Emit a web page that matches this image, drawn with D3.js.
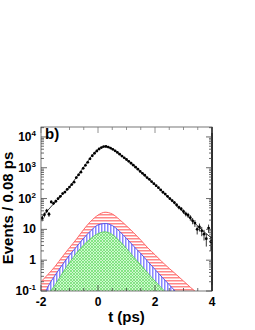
<!DOCTYPE html>
<html>
<head>
<meta charset="utf-8">
<script src="https://cdn.jsdelivr.net/npm/d3@7"></script>
<style>
body { margin:0; background:#fff; }
text { font-family: "Liberation Sans", Arial, sans-serif; font-weight: bold; }
</style>
</head>
<body>
<div id="chart"></div>
<script>
// measured time distribution, bins of 0.08 ps starting at -2
const binWidth = 0.08;
const counts = [23,30,40,31,78,70,82,100,118,145,162,200,235,285,340,480,590,720,960,1200,
  1500,1950,2450,2950,3500,4050,4500,4850,4900,4700,4350,3950,3550,3150,2750,2400,2100,1850,1620,1400,
  1210,1040,900,760,660,570,480,420,355,305,262,225,190,160,140,118,100,86,74,62,
  52,46,38,32,29,24,19,16,10,12,9,7,5,11,4];

// fit curve, sampled every 0.25 ps
const fitT = [-2,-1.75,-1.5,-1.25,-1,-0.75,-0.5,-0.25,0,0.25,0.5,0.75,1,1.25,1.5,1.75,2,2.25,2.5,2.75,3,3.25,3.5,3.75,4];
const fitVals = [23.4,42.6,77.6,136,238,505,1060,2240,3930,4920,4080,2800,1860,1190,731,450,277,170,105,62,36.7,21.8,12.9,7.9,5.1];

// background components (stacked: green, blue, red)
const greenBkg = [0.01,0.07,0.16,0.38,0.84,1.72,3.15,5.1,7.3,8.3,6.8,4.25,2.4,1.28,0.7,0.38,0.21,0.12,0.07,0.04,0.02,0.01,0.006,0.003,0.002];
const blueBkg = [0.03,0.07,0.17,0.33,0.61,1.03,2.05,4.0,6.7,7.2,6.5,4.45,2.7,1.57,0.95,0.52,0.29,0.16,0.09,0.05,0.03,0.02,0.009,0.005,0.002];
const redBkg = [0.16,0.21,0.31,0.59,1.1,2.15,4.8,9.4,15,20.5,18.2,12.3,7.9,4.95,2.85,1.6,1.0,0.6,0.38,0.25,0.16,0.1,0.068,0.042,0.026];

const xTicks = [-2,0,2,4];
const yTicks = [0.1,1,10,100,1000,10000];
const yTickLabels = [["10","-1"],["1",""],["10",""],["10","2"],["10","3"],["10","4"]];

const margin = {top:127,right:43,bottom:39,left:41},
    width = 255 - margin.left - margin.right,
    height = 330 - margin.top - margin.bottom;

const svg = d3.select("#chart")
    .append("svg")
    .attr("width",255)
    .attr("height",330);

const defs = svg.append("defs");

// hatch patterns
const pRed = defs.append("pattern").attr("id","hRed")
    .attr("patternUnits","userSpaceOnUse").attr("width",4).attr("height",3);
pRed.append("rect").attr("width",4).attr("height",3).attr("fill","#fff");
pRed.append("rect").attr("width",4).attr("height",1.5).attr("fill","#f88");

const pBlue = defs.append("pattern").attr("id","hBlue")
    .attr("patternUnits","userSpaceOnUse").attr("width",3).attr("height",4);
pBlue.append("rect").attr("width",3).attr("height",4).attr("fill","#fff");
pBlue.append("rect").attr("width",1.5).attr("height",4).attr("fill","#88f");

const pGreen = defs.append("pattern").attr("id","hGreen")
    .attr("patternUnits","userSpaceOnUse").attr("width",3).attr("height",3);
pGreen.append("rect").attr("width",3).attr("height",3).attr("fill","#d0f8d0");
pGreen.append("path").attr("d","M0,3L3,0M0,0L3,3").attr("stroke","#6d6").attr("stroke-width",0.7);

defs.append("clipPath").attr("id","clip")
    .append("rect").attr("width",width).attr("height",height);

const g = svg.append("g")
    .attr("transform","translate("+margin.left+","+margin.top+")");

const x = d3.scaleLinear().domain([-2,4]).range([0,width]);
const y = d3.scaleLog().domain([0.1,21000]).range([height,0]);

const plot = g.append("g").attr("clip-path","url(#clip)");

// stacked background tops
const greenTop = greenBkg.slice();
const blueTop = greenBkg.map((v,i)=>v+blueBkg[i]);
const redTop = blueTop.map((v,i)=>v+redBkg[i]);

function areaOf(top){
  return d3.area()
    .x((d,i)=>x(fitT[i]))
    .y0(height)
    .y1(d=>y(Math.max(d,0.001)))
    .curve(d3.curveMonotoneX)(top);
}
function lineOf(top){
  return d3.line()
    .x((d,i)=>x(fitT[i]))
    .y(d=>y(Math.max(d,0.001)))
    .curve(d3.curveMonotoneX)(top);
}

plot.append("path").attr("d",areaOf(redTop)).attr("fill","url(#hRed)");
plot.append("path").attr("d",lineOf(redTop)).attr("fill","none").attr("stroke","#f66").attr("stroke-width",1);
plot.append("path").attr("d",areaOf(blueTop)).attr("fill","url(#hBlue)");
plot.append("path").attr("d",lineOf(blueTop)).attr("fill","none").attr("stroke","#55e").attr("stroke-width",1);
plot.append("path").attr("d",areaOf(greenTop)).attr("fill","url(#hGreen)");
plot.append("path").attr("d",lineOf(greenTop)).attr("fill","none").attr("stroke","#5c5").attr("stroke-width",0.8);

// fit curve
plot.append("path").attr("d",lineOf(fitVals)).attr("fill","none")
    .attr("stroke","#222").attr("stroke-width",0.9);

// data points
const pts = counts.map((c,i)=>({t:-2+binWidth*(i+0.5), n:c}));
plot.selectAll(".eb").data(pts).enter().append("line")
    .attr("x1",d=>x(d.t)).attr("x2",d=>x(d.t))
    .attr("y1",d=>y(d.n+Math.sqrt(d.n)))
    .attr("y2",d=>y(Math.max(d.n-Math.sqrt(d.n),0.05)))
    .attr("stroke","#000").attr("stroke-width",0.8);
plot.selectAll(".pt").data(pts).enter().append("circle")
    .attr("cx",d=>x(d.t)).attr("cy",d=>y(d.n))
    .attr("r",1.4).attr("fill","#000");

// frame and ticks (inward, mirrored)
const frame = g.append("g");
frame.append("rect").attr("width",width).attr("height",height)
    .attr("fill","none").attr("stroke","#555").attr("stroke-width",0.8);
frame.append("line").attr("x1",width).attr("x2",width).attr("y1",0).attr("y2",height)
    .attr("stroke","#000").attr("stroke-width",1.5);

const minorX = d3.range(-2,4.01,0.5);
minorX.forEach(v=>{
  const len = (v%2===0) ? 6 : 3;
  frame.append("line").attr("x1",x(v)).attr("x2",x(v)).attr("y1",height).attr("y2",height-len).attr("stroke","#444").attr("stroke-width",0.8);
  frame.append("line").attr("x1",x(v)).attr("x2",x(v)).attr("y1",0).attr("y2",len).attr("stroke","#777").attr("stroke-width",0.8);
});

const minorY = [];
[0.1,1,10,100,1000,10000].forEach(d=>{ for(let k=1;k<10;k++){ if(d*k<=21000) minorY.push([d*k,k===1]); } });
minorY.forEach(([v,maj])=>{
  const len = maj ? 6 : 3;
  frame.append("line").attr("x1",0).attr("x2",len).attr("y1",y(v)).attr("y2",y(v)).attr("stroke","#444").attr("stroke-width",0.8);
  frame.append("line").attr("x1",width).attr("x2",width-len).attr("y1",y(v)).attr("y2",y(v)).attr("stroke","#444").attr("stroke-width",0.8);
});

// tick labels
g.selectAll(".xl").data(xTicks).enter().append("text")
    .attr("x",d=>x(d)).attr("y",height+15)
    .attr("text-anchor","middle").attr("font-size",12)
    .text(d=>d);

yTicks.forEach((v,i)=>{
  const t = g.append("text").attr("x",-5).attr("y",y(v)+4)
      .attr("text-anchor","end").attr("font-size",12);
  t.append("tspan").text(yTickLabels[i][0]);
  if(yTickLabels[i][1]) t.append("tspan").attr("dy",-5).attr("font-size",8).text(yTickLabels[i][1]);
});

// axis titles
g.append("text").attr("x",width/2).attr("y",height+31)
    .attr("text-anchor","middle").attr("font-size",15).text("t (ps)");
svg.append("text").attr("transform","translate(13,208)rotate(-90)")
    .attr("text-anchor","middle").attr("font-size",15).text("Events / 0.08 ps");

g.append("text").attr("x",4).attr("y",12).attr("font-size",15).text("b)");
</script>
</body>
</html>
